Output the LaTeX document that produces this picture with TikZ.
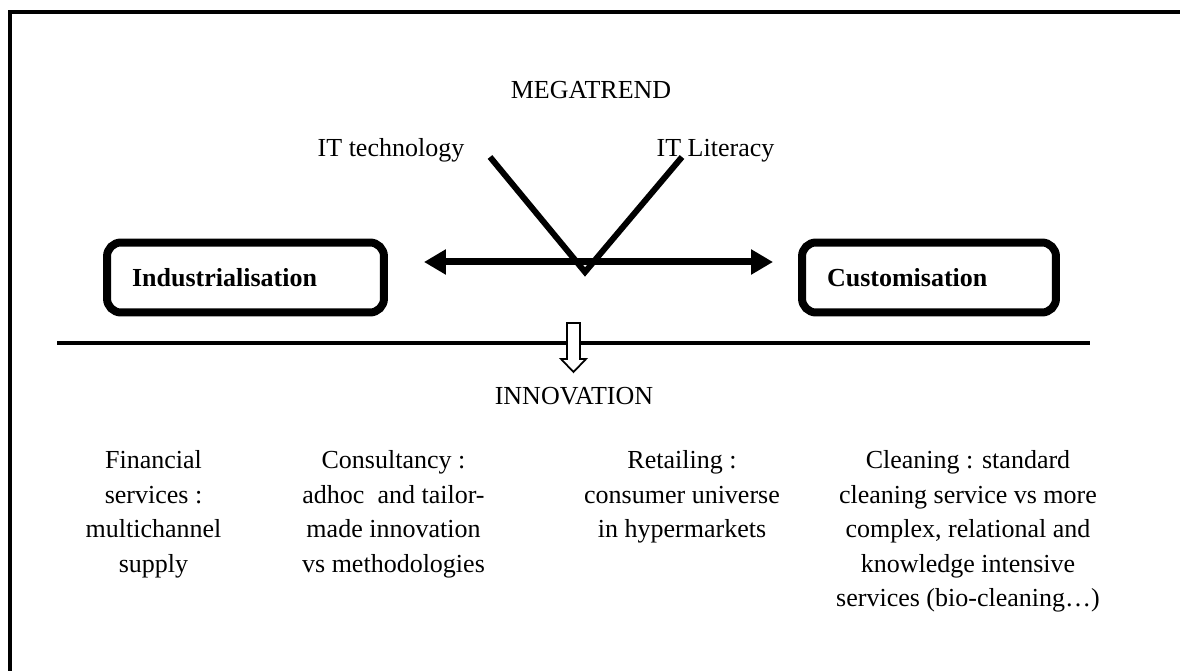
\documentclass[tikz,border=0pt]{standalone}
\usepackage{fontspec}
\setmainfont{Liberation Serif}
\usetikzlibrary{arrows.meta, positioning}
\newcommand{\diagfont}{\fontsize{14.8}{19.7}\selectfont}

\begin{document}
\begin{tikzpicture}[x=0.02cm, y=-0.02cm, >={Triangle[length=0.44cm, width=0.48cm]}, font=\diagfont]
  \tikzstyle{trendbox}=[draw, line width=0.16cm, rounded corners=0.28cm, minimum height=1.4cm, inner xsep=0.5cm, align=left, font=\diagfont\bfseries]
  \tikzstyle{sector}=[align=center, inner sep=0pt, anchor=north]

  \useasboundingbox (0,0) rectangle (1180,671);
  \draw[line width=0.08cm] (10,671) -- (10,12) -- (1180,12);

  \node[anchor=base] (mega) at (591,99) {MEGATREND};
  \node[anchor=base] (tech) at (391,157) {IT technology};
  \node[anchor=base] (lit) at (715.5,157) {IT Literacy};

  \node[trendbox, text width=4.54cm] (ind) at (245.5,277.5) {Industrialisation};
  \node[trendbox, text width=4.08cm] (cus) at (929,277.5) {Customisation};

  % the two trends meeting
  \coordinate (vl) at (490,157);
  \coordinate (vr) at (682,157);
  \coordinate (vtip) at (585,272);
  \draw[line width=0.12cm] (vl) -- (vtip) -- (vr);

  \draw[<->, line width=0.14cm, shorten <=0.72cm, shorten >=0.5cm] ([yshift=0.31cm]ind.east) -- ([yshift=0.31cm]cus.west);

  \coordinate (sepL) at (57,343);
  \coordinate (sepR) at (1090,343);
  \draw[line width=0.08cm] (sepL) -- (sepR);

  \coordinate (push) at (573.5,323);
  \draw[fill=white, line width=0.035cm] (push) ++(-6.5,0) -- ++(0,36) -- ++(-6,0) -- ++(12.5,13) -- ++(12.5,-13) -- ++(-6,0) -- ++(0,-36) -- cycle;

  \node[anchor=base] (innov) at (574,405) {INNOVATION};

  \node[sector] (fin) at (153.5,450) {Financial\\services :\\multichannel\\supply};
  \node[sector] (cons) at (393.5,450) {Consultancy :\\adhoc~ and tailor-\\made innovation\\vs methodologies};
  \node[sector] (ret) at (682,450) {Retailing :\\consumer universe\\in hypermarkets};
  \node[sector] (clean) at (968,450) {Cleaning : standard\\cleaning service vs more\\complex, relational and\\knowledge intensive\\services (bio-cleaning…)};
\end{tikzpicture}
\end{document}
